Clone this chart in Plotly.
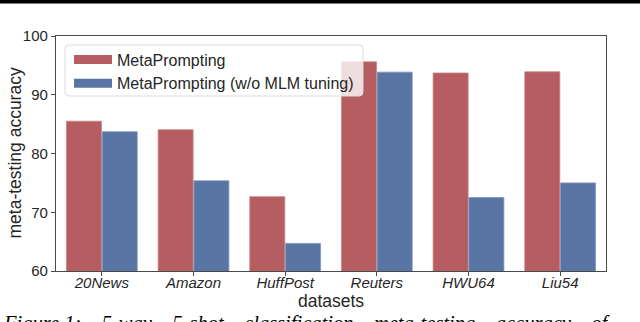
import plotly.graph_objects as go

categories = ["20News", "Amazon", "HuffPost", "Reuters", "HWU64", "Liu54"]
meta_prompting = [85.5, 84.05, 72.65, 95.6, 93.7, 93.9]
meta_prompting_wo_mlm = [83.7, 75.35, 64.7, 93.85, 72.5, 75.0]
series_names = ["MetaPrompting", "MetaPrompting (w/o MLM tuning)"]
y_ticks = [60, 70, 80, 90, 100]
x_title = "datasets"
y_title = "meta-testing accuracy"
caption_words = ["Figure 1:", "5-way", "5-shot", "classification", "meta-testing", "accuracy", "of"]

RED = "#B55D60"
BLUE = "#5975A4"
AXIS = "#4a4a4a"
FONT = "Liberation Sans, Arial, sans-serif"

W, H = 640, 322
L, R, T, B = 56, 34, 36, 51
PH = H - T - B  # plot height in px
PW = W - L - R


def py(p):
    """pixel row (from top) -> paper y"""
    return (H - B - p) / PH


def px(p):
    """pixel column (from left) -> paper x"""
    return (p - L) / PW


def rounded_rect(x0, y0, x1, y1, r):
    return (
        f"M {px(x0 + r)},{py(y0)} L {px(x1 - r)},{py(y0)} Q {px(x1)},{py(y0)} {px(x1)},{py(y0 + r)} "
        f"L {px(x1)},{py(y1 - r)} Q {px(x1)},{py(y1)} {px(x1 - r)},{py(y1)} "
        f"L {px(x0 + r)},{py(y1)} Q {px(x0)},{py(y1)} {px(x0)},{py(y1 - r)} "
        f"L {px(x0)},{py(y0 + r)} Q {px(x0)},{py(y0)} {px(x0 + r)},{py(y0)} Z"
    )


# justified-looking caption: widen the word gaps with non-breaking spaces
caption = ("\u00a0" * 3 + " ").join(caption_words)

fig = go.Figure()
colors = [RED, BLUE]
edges = ["#c98486", "#7f95bb"]
for name, vals, c, e in zip(series_names, [meta_prompting, meta_prompting_wo_mlm], colors, edges):
    fig.add_trace(go.Bar(
        x=categories, y=vals, name=name, legendgroup=name, showlegend=False,
        marker=dict(color=c, line=dict(color=e, width=0.8)),
    ))
# legend entries (wide rectangular swatches like the reference)
for name, c in zip(series_names, colors):
    fig.add_trace(go.Scatter(
        x=[None], y=[None], name=name, legendgroup=name, mode="lines",
        line=dict(color=c, width=9), showlegend=True, hoverinfo="skip",
    ))

fig.update_layout(
    template="none",
    width=W, height=H,
    margin=dict(l=L, r=R, t=T, b=B, pad=0),
    paper_bgcolor="white", plot_bgcolor="white",
    barmode="group", bargap=0.22, bargroupgap=0.02,
    font=dict(family=FONT, size=15, color="#262626"),
    showlegend=True,
    legend=dict(
        x=px(69), y=py(42.5), xanchor="left", yanchor="top",
        bgcolor="rgba(0,0,0,0)", borderwidth=0,
        font=dict(family=FONT, size=16, color="#262626"),
        itemwidth=38, tracegroupgap=0,
    ),
    shapes=[
        dict(type="rect", xref="paper", yref="paper",
             x0=px(-5), x1=px(W + 5), y0=py(3.5), y1=py(-2),
             fillcolor="black", line=dict(width=0), layer="above"),
        dict(type="path", xref="paper", yref="paper",
             path=rounded_rect(65, 45, 363, 96, 4),
             fillcolor="rgba(255,255,255,0.8)", line=dict(color="#dcdcdc", width=1),
             layer="above"),
    ],
    annotations=[
        dict(text=y_title, xref="paper", yref="paper",
             x=px(14), y=0.5, xanchor="center", yanchor="middle", textangle=-90,
             showarrow=False, font=dict(family=FONT, size=17.5, color="#262626")),
        dict(text=caption, xref="paper", yref="paper",
             x=px(1), y=py(310), xanchor="left", yanchor="top", showarrow=False,
             font=dict(family="Liberation Serif, Times New Roman, serif", size=20.5,
                       color="black", style="italic")),
    ],
)

fig.update_xaxes(
    automargin=False,
    title=dict(text=x_title, font=dict(size=17.5), standoff=2),
    tickfont=dict(size=15, style="italic"),
    ticklabelstandoff=-6,
    showline=True, linecolor=AXIS, linewidth=1.3, mirror=True,
    ticks="outside", ticklen=4, tickcolor=AXIS, tickwidth=1,
    showgrid=False, zeroline=False,
)
fig.update_yaxes(
    automargin=False,
    range=[60, 100], tickvals=y_ticks, tickfont=dict(size=15),
    showline=True, linecolor=AXIS, linewidth=1.3, mirror=True,
    ticks="outside", ticklen=4, tickcolor=AXIS, tickwidth=1,
    showgrid=False, zeroline=False,
)

fig.write_html(
    "out.html",
    config={"displayModeBar": False},
    post_script="document.body.style.margin='0';document.body.style.overflow='hidden';",
)
